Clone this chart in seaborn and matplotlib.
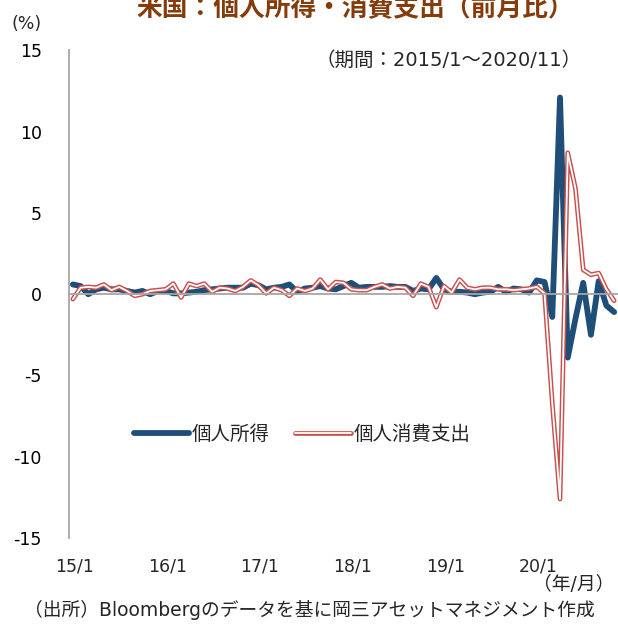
"""
plot.py

US personal income / personal consumption expenditure, month-on-month (%).
"""

import numpy as np
import pandas as pd
import matplotlib
matplotlib.use("Agg")
import matplotlib.pyplot as plt
from matplotlib.lines import Line2D
from matplotlib.legend_handler import HandlerTuple
import seaborn as sns

# === Data (2015/1 - 2020/11) ===
months = pd.date_range("2015-01-01", "2020-11-01", freq="MS")

income = [
    0.6, 0.5, 0.0, 0.3, 0.4, 0.3, 0.3, 0.2, 0.1, 0.2, 0.0, 0.2,         # 2015
    0.2, 0.05, 0.05, 0.1, 0.15, 0.25, 0.3, 0.35, 0.4, 0.4, 0.4, 0.65,   # 2016
    0.55, 0.3, 0.4, 0.45, 0.6, 0.15, 0.35, 0.4, 0.5, 0.35, 0.3, 0.5,    # 2017
    0.7, 0.4, 0.45, 0.45, 0.45, 0.5, 0.45, 0.45, 0.2, 0.35, 0.3, 1.0,   # 2018
    0.3, 0.15, 0.15, 0.1, 0.0, 0.1, 0.15, 0.45, 0.15, 0.35, 0.3, 0.1,   # 2019
    0.85, 0.75, -1.4, 12.1, -3.9, -1.5, 0.7, -2.5, 0.8, -0.7, -1.1,     # 2020
]

spending = [
    -0.3, 0.4, 0.45, 0.4, 0.6, 0.25, 0.45, 0.2, -0.1, 0.0, 0.2, 0.25,   # 2015
    0.3, 0.65, -0.2, 0.65, 0.5, 0.65, 0.15, 0.4, 0.35, 0.2, 0.45, 0.85, # 2016
    0.55, 0.05, 0.4, 0.25, -0.1, 0.35, 0.2, 0.35, 0.9, 0.3, 0.75, 0.7,  # 2017
    0.3, 0.25, 0.25, 0.45, 0.6, 0.35, 0.45, 0.4, -0.1, 0.65, 0.45, -0.8,# 2018
    0.5, 0.1, 0.9, 0.4, 0.3, 0.4, 0.4, 0.3, 0.3, 0.25, 0.3, 0.35,       # 2019
    0.45, 0.05, -6.7, -12.6, 8.7, 6.5, 1.5, 1.2, 1.3, 0.3, -0.4,        # 2020
]

year_labels = ["15/1", "16/1", "17/1", "18/1", "19/1", "20/1"]
y_ticks = [15, 10, 5, 0, -5, -10, -15]

series_names = ["個人所得", "個人消費支出"]

# === Style ===
BLUE = "#1F4E79"
RED = "#C9504C"
GREY = "#A6A6A6"
TITLE_COLOR = "#843C0C"
LW_BLUE = 4.2
LW_RED = 3.4
LW_CORE = 1.3

sns.set_style("white")
plt.rcParams["font.family"] = ["DejaVu Sans", "Noto Sans CJK JP"]

df = pd.DataFrame({
    "month": months,
    "idx": np.arange(len(months)),
    series_names[0]: income,
    series_names[1]: spending,
})

W, H = 618, 624
fig = plt.figure(figsize=(W / 100, H / 100), dpi=100)
ax = fig.add_axes([69 / W, 1 - 538 / H, 549 / W, (538 - 50.4) / H])

# income: thick navy line
sns.lineplot(data=df, x="idx", y=series_names[0], color=BLUE, lw=LW_BLUE,
             ax=ax, legend=False, solid_joinstyle="round")
# spending: red double line (red stroke with white core)
sns.lineplot(data=df, x="idx", y=series_names[1], color=RED, lw=LW_RED,
             ax=ax, legend=False, solid_joinstyle="round")
sns.lineplot(data=df, x="idx", y=series_names[1], color="white", lw=LW_CORE,
             ax=ax, legend=False, solid_joinstyle="round")

# === Axes ===
ax.set_xlim(-0.5, len(months) - 0.5)
ax.set_ylim(-15, 15)
ax.set_xlabel("")
ax.set_ylabel("")

for side in ["top", "right"]:
    ax.spines[side].set_visible(False)
for side in ["left", "bottom"]:
    ax.spines[side].set_color(GREY)
    ax.spines[side].set_linewidth(1.3)
ax.spines["bottom"].set_position(("data", 0))

ax.set_yticks(y_ticks)
ax.set_yticklabels([str(v) for v in y_ticks])
ax.tick_params(axis="y", direction="out", length=3.6, width=1.3, color=GREY,
               pad=16, labelsize=12.5, labelcolor="black")

year_starts = np.arange(0, len(months), 12)
ax.set_xticks(year_starts[1:] - 0.5)
ax.set_xticklabels([])
ax.tick_params(axis="x", direction="out", length=3.6, width=1.3, color=GREY)

for pos, lab in zip(year_starts, year_labels):
    ax.text(pos + 0.2, -16.75, lab, ha="center", va="center", fontsize=12.5)

# === Legend ===
h_income = Line2D([], [], color=BLUE, lw=LW_BLUE, solid_capstyle="round")
h_spend = (Line2D([], [], color=RED, lw=LW_RED, solid_capstyle="round"),
           Line2D([], [], color="white", lw=LW_CORE))
ax.legend([h_income, h_spend], series_names, loc="center",
          bbox_to_anchor=((302 - 69) / 549, 0.2127), bbox_transform=ax.transAxes,
          ncol=2, frameon=False, fontsize=14, handlelength=2.85,
          handletextpad=0.15, columnspacing=1.3,
          handler_map={tuple: HandlerTuple(ndivide=1, pad=0)})

# === Text ===
fig.text(355 / W, 1 - 16 / H, "米国：個人所得・消費支出（前月比）", ha="center",
         va="baseline", fontsize=18.5, fontweight="bold", color=TITLE_COLOR,
         family=["Noto Sans CJK JP"])
fig.text(27 / W, 1 - 24 / H, "(%)", ha="center", va="center", fontsize=12.5)
fig.text(582 / W, 1 - 60 / H, "（期間：2015/1～2020/11）", ha="right",
         va="center", fontsize=14)
fig.text(614 / W, 1 - 585 / H, "（年/月）", ha="right", va="center", fontsize=13.5)
fig.text(309 / W, 1 - 610 / H,
         "（出所）Bloombergのデータを基に岡三アセットマネジメント作成",
         ha="center", va="center", fontsize=13.5)

fig.savefig("out.png", dpi=100)
